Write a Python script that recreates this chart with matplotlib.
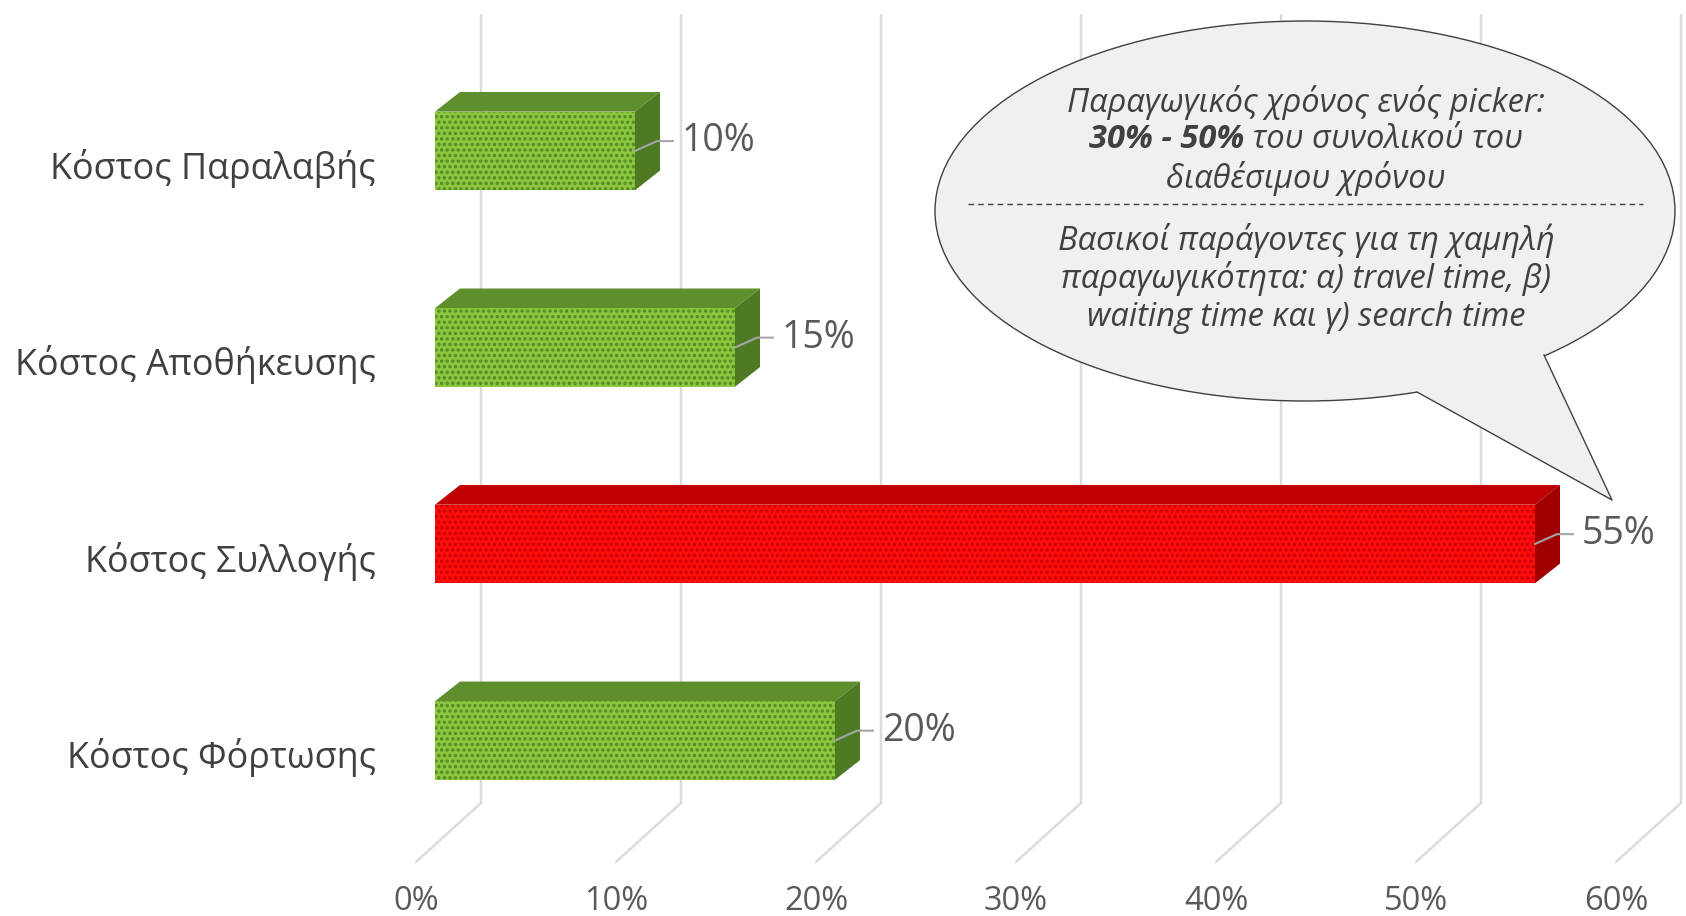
import numpy as np
import matplotlib.pyplot as plt
from matplotlib.patches import Polygon, Ellipse
from matplotlib.transforms import Affine2D

plt.rcParams['font.family'] = ['Open Sans', 'DejaVu Sans']
plt.rcParams['hatch.linewidth'] = 1.6

# data
categories = ["Κόστος Παραλαβής", "Κόστος Αποθήκευσης", "Κόστος Συλλογής", "Κόστος Φόρτωσης"]
values = [10, 15, 55, 20]
highlight = [False, False, True, False]
ticks = [0, 10, 20, 30, 40, 50, 60]

callout_top = "Παραγωγικός χρόνος ενός picker:"
callout_bold = "30% - 50%"
callout_rest = " του συνολικού του"
callout_line3 = "διαθέσιμου χρόνου"
callout_bottom = ["Βασικοί παράγοντες για τη χαμηλή",
                  "παραγωγικότητα: α) travel time, β)",
                  "waiting time και γ) search time"]

W, H = 1686, 916
fig = plt.figure(figsize=(W / 100, H / 100), dpi=100)
ax = fig.add_axes([0, 0, 1, 1])
ax.set_xlim(-21.75, 62.55)
ax.set_ylim(3.893, -0.768)
ax.axis('off')

# pixel transform for the callout shape
px = Affine2D().scale(1 / W, -1 / H).translate(0, 1) + fig.transFigure

y = np.arange(len(categories))
h = 0.4
dx, dy = 1.25, -0.1  # depth of the bars

# back wall gridlines + floor
gx, fx = 2.3, -0.95
for t in ticks:
    ax.plot([t + gx, t + gx, t + fx], [-0.69, 3.318, 3.618], color='#dcdcdc', lw=1.8, zorder=0,
            solid_capstyle='round')
    ax.text(t + fx, 3.817, f"{t}%", ha='center', va='center', fontsize=23.5, color='#595959')

front = ['#ff0d0d' if hl else '#8cc63f' for hl in highlight]
dots = ['#c80000' if hl else '#4f8a22' for hl in highlight]
topc = ['#c00000' if hl else '#5e8f2c' for hl in highlight]
sidec = ['#a00000' if hl else '#4d7a22' for hl in highlight]

ax.barh(y, values, height=h, color=front, edgecolor=dots, hatch='...', lw=0, zorder=3)

for i, v in enumerate(values):
    t0, b0 = y[i] - h / 2, y[i] + h / 2
    ax.add_patch(Polygon([(0, t0), (v, t0), (v + dx, t0 + dy), (dx, t0 + dy)],
                         closed=True, fc=topc[i], ec='none', zorder=3))
    ax.add_patch(Polygon([(v, t0), (v + dx, t0 + dy), (v + dx, b0 + dy), (v, b0)],
                         closed=True, fc=sidec[i], ec='none', zorder=3))
    # leader line + data label
    ly = y[i] - 0.05
    ax.plot([v, v + 1.1, v + 1.9], [y[i], ly, ly], color='#a6a6a6', lw=1.5, zorder=4)
    ax.text(v + 2.35, ly, f"{v}%", ha='left', va='center', fontsize=27, color='#595959', zorder=4)
    # category label
    ax.text(-2.95, y[i] + 0.087, categories[i], ha='right', va='center', fontsize=25.8, color='#404040')

# callout bubble
ax.add_patch(Ellipse((1305, 211), 740, 380, transform=px, fc='#f0f0f0', ec='#404040', lw=1, zorder=5))
b1, tip, b2 = (1417, 392), (1612, 500), (1544, 355)
ax.add_patch(Polygon([b1, tip, b2, (1530, 340), (1410, 375)], closed=True, transform=px,
                     fc='#f0f0f0', ec='none', zorder=6))
ax.plot([b1[0], tip[0], b2[0]], [b1[1], tip[1], b2[1]], transform=px, color='#404040', lw=1, zorder=7)

tk = dict(transform=px, fontsize=23.5, style='italic', color='#404040', zorder=8, va='center')
ax.text(1306, 102, callout_top, ha='center', **tk)
ax.text(1306, 178, callout_line3, ha='center', **tk)
for k, line in enumerate(callout_bottom):
    ax.text(1306, 240 + 38.5 * k, line, ha='center', **tk)

# second line: bold part + normal part, centred together
r = fig.canvas.get_renderer()
tb = ax.text(0, 140, callout_bold, ha='left', weight='bold', **tk)
tr = ax.text(0, 140, callout_rest, ha='left', **tk)
wb = tb.get_window_extent(r).width
wr = tr.get_window_extent(r).width
x0 = 1306 - (wb + wr) / 2
tb.set_x(x0)
tr.set_x(x0 + wb)

ax.plot([968, 1643], [204, 204], transform=px, ls=(0, (4, 3)), color='#404040', lw=1, zorder=8)

fig.savefig('out.png', dpi=100)
